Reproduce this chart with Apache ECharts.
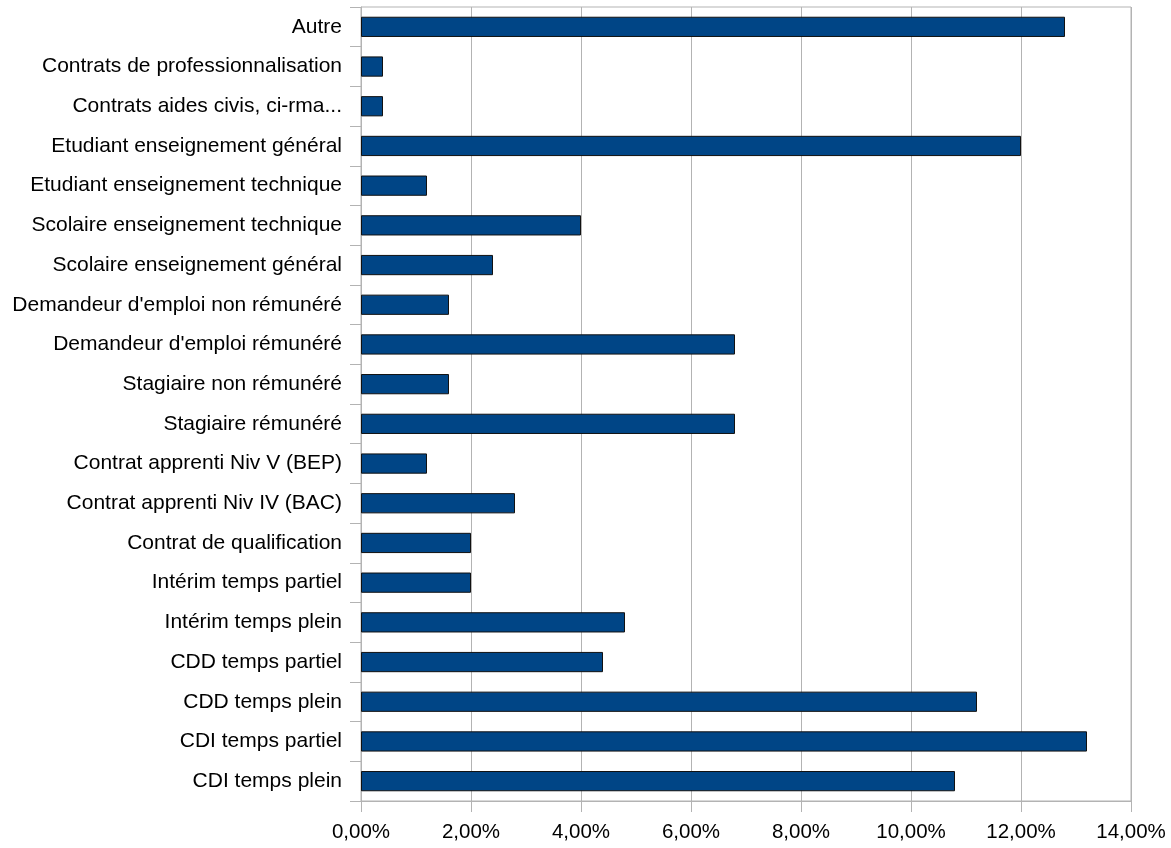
<!DOCTYPE html>
<html>
<head>
<meta charset="utf-8">
<script src="https://cdn.jsdelivr.net/npm/echarts@6/dist/echarts.min.js"></script>
<style>
html,body{margin:0;padding:0;background:#fff;}
#chart{width:1171px;height:848px;}
</style>
</head>
<body>
<div id="chart"></div>
<script>
// Categories listed top to bottom as displayed
const categories = [
  "Autre",
  "Contrats de professionnalisation",
  "Contrats aides civis, ci-rma...",
  "Etudiant enseignement général",
  "Etudiant enseignement technique",
  "Scolaire enseignement technique",
  "Scolaire enseignement général",
  "Demandeur d'emploi non rémunéré",
  "Demandeur d'emploi rémunéré",
  "Stagiaire non rémunéré",
  "Stagiaire rémunéré",
  "Contrat apprenti Niv V (BEP)",
  "Contrat apprenti Niv IV (BAC)",
  "Contrat de qualification",
  "Intérim temps partiel",
  "Intérim temps plein",
  "CDD temps partiel",
  "CDD temps plein",
  "CDI temps partiel",
  "CDI temps plein"
];
// Percent values
const values = [12.8, 0.4, 0.4, 12.0, 1.2, 4.0, 2.4, 1.6, 6.8, 1.6, 6.8, 1.2, 2.8, 2.0, 2.0, 4.8, 4.4, 11.2, 13.2, 10.8];
const xTicks = [0, 2, 4, 6, 8, 10, 12, 14];

const chart = echarts.init(document.getElementById('chart'), null, {renderer: 'canvas'});
const font = '"Liberation Sans", Arial, sans-serif';
chart.setOption({
  animation: false,
  backgroundColor: '#ffffff',
  grid: {
    left: 361, right: 40, top: 7, bottom: 47,
    show: true, borderColor: '#b3b3b3', borderWidth: 1, backgroundColor: 'transparent'
  },
  xAxis: {
    type: 'value',
    min: xTicks[0], max: xTicks[xTicks.length - 1], interval: 2,
    axisLine: {show: true, lineStyle: {color: '#b3b3b3', width: 1}},
    axisTick: {show: true, length: 11, lineStyle: {color: '#b3b3b3'}},
    splitLine: {show: true, lineStyle: {color: '#b3b3b3', width: 1}},
    axisLabel: {
      color: '#000', fontFamily: font, fontSize: 20.5, margin: 21,
      formatter: v => v.toFixed(2).replace('.', ',') + '%'
    }
  },
  yAxis: {
    type: 'category',
    data: categories,
    inverse: true,
    axisLine: {show: true, lineStyle: {color: '#b3b3b3', width: 1}},
    axisTick: {show: true, length: 11, lineStyle: {color: '#b3b3b3'}},
    splitLine: {show: false},
    axisLabel: {color: '#000', fontFamily: font, fontSize: 21, margin: 19}
  },
  series: [{
    type: 'bar',
    data: values,
    barCategoryGap: '49%',
    itemStyle: {color: '#004586', borderColor: '#111', borderWidth: 1}
  }]
});
</script>
</body>
</html>
